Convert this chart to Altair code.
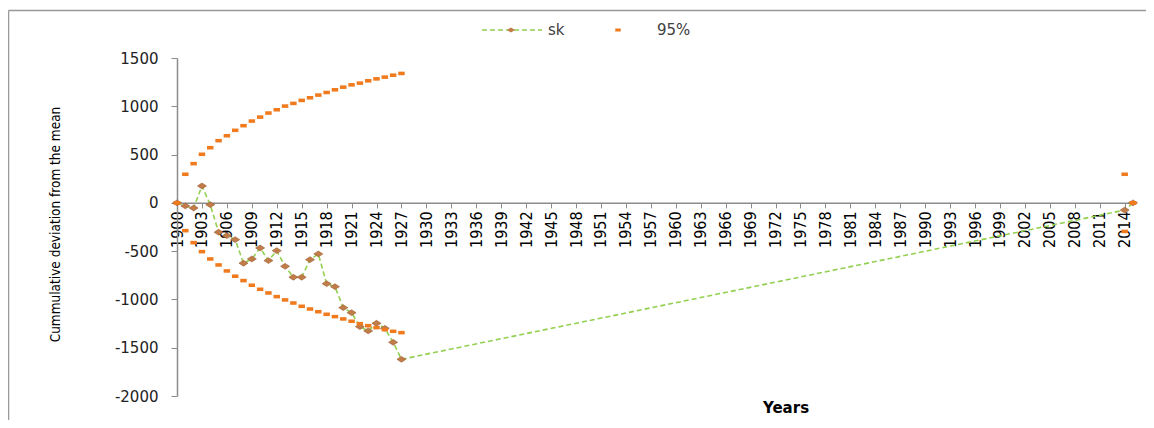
import altair as alt
import pandas as pd

# ---- data ----
years_a = list(range(1900, 1928))
years_b = [2014, 2015]
years = years_a + years_b

sk = [0, -32, -53, 175, -19, -304, -340, -381, -625, -581, -467, -598, -495, -657,
      -770, -770, -588, -529, -837, -868, -1085, -1137, -1282, -1326, -1247, -1299,
      -1444, -1620,
      -75, 0]

upper95 = [0, 296, 406, 503, 571, 644, 695, 751, 799, 847, 888, 930, 964, 1002,
           1030, 1061, 1088, 1116, 1143, 1171, 1198, 1222, 1240, 1264, 1284, 1302,
           1322, 1340,
           296, 0]

lower95 = [0, -288, -412, -505, -581, -643, -705, -760, -805, -853, -895, -933, -971,
           -1005, -1037, -1071, -1099, -1127, -1154, -1178, -1202, -1226, -1251, -1272,
           -1292, -1313, -1330, -1344,
           -296, 0]

x_ticks = list(range(1900, 2015, 3))
y_ticks = [-2000, -1500, -1000, -500, 0, 500, 1000, 1500]

legend_sk = ["sk"]
legend_95 = ["95%"]
x_title = ["Years"]
y_title = "Cummulative deviation from the mean"

# ---- layout constants ----
W, H = 956, 338
Y_MIN, Y_MAX = -2000, 1500
zero_px = H * (Y_MAX - 0) / (Y_MAX - Y_MIN)
x_axis_offset = -(H - zero_px)

GREEN = "#92D050"
BROWN = "#C27C4A"
ORANGE = "#F07A1E"
AXIS_GREY = "#8C8C8C"
NARROW = "Liberation Sans Narrow, DejaVu Sans Condensed, Arial Narrow, sans-serif"
WIDE = "DejaVu Sans, Verdana, sans-serif"

DIAMOND = "M-1,0L0,-0.65L1,0L0,0.65Z"
RECT = "M-1,-0.55L1,-0.55L1,0.55L-1,0.55Z"

sk_df = pd.DataFrame({"year": years, "sk": sk})
ci_df = pd.DataFrame({
    "year": years + years,
    "value": upper95 + lower95,
    "bound": ["upper"] * len(years) + ["lower"] * len(years),
})

x_axis = alt.Axis(
    values=x_ticks, format="d", labelAngle=-90, labelOverlap=False,
    labelFont=NARROW, labelFontSize=16, labelColor="#000000", labelPadding=3,
    tickSize=5, tickColor=AXIS_GREY, domainColor=AXIS_GREY, domainWidth=1.5,
    grid=False, title=None, offset=x_axis_offset,
)
y_axis = alt.Axis(
    values=y_ticks, labelExpr="datum.value + ''", labelFont=WIDE, labelFontSize=15,
    labelColor="#222222", labelPadding=13, tickSize=6, tickColor=AXIS_GREY,
    domainColor=AXIS_GREY, domainWidth=1.5, grid=False,
    title=y_title, titleFont=NARROW, titleFontSize=13.5, titleFontWeight="normal",
    titleColor="#000000", titleX=-122, titleY=166, titleAngle=-90,
    titleAlign="center", titleBaseline="middle",
)
x_scale = alt.Scale(domain=[1900, 2015], nice=False, zero=False)
y_scale = alt.Scale(domain=[Y_MIN, Y_MAX], nice=False, zero=False)

sk_line = alt.Chart(sk_df).mark_line(
    color=GREEN, strokeDash=[5, 3], strokeWidth=1.6
).encode(
    x=alt.X("year:Q", scale=x_scale, axis=x_axis),
    y=alt.Y("sk:Q", scale=y_scale, axis=y_axis),
)
sk_pts = alt.Chart(sk_df).mark_point(
    shape=DIAMOND, filled=True, color=BROWN, size=81, opacity=1,
    stroke="#9A5A2E", strokeWidth=0.6,
).encode(
    x=alt.X("year:Q", scale=x_scale, axis=x_axis),
    y=alt.Y("sk:Q", scale=y_scale, axis=y_axis),
)
ci_pts = alt.Chart(ci_df).mark_point(
    shape=RECT, filled=True, color=ORANGE, size=42, opacity=1,
).encode(
    x=alt.X("year:Q", scale=x_scale, axis=x_axis),
    y=alt.Y("value:Q", scale=y_scale, axis=y_axis),
    detail="bound:N",
)

one = pd.DataFrame({"k": [0]})

# legend
leg_line = alt.Chart(one).mark_rule(
    color=GREEN, strokeDash=[5, 3], strokeWidth=1.6
).encode(x=alt.value(305), x2=alt.value(365), y=alt.value(-28))
leg_diamond = alt.Chart(one).mark_point(
    shape=DIAMOND, filled=True, color=BROWN, size=64, opacity=1
).encode(x=alt.value(334), y=alt.value(-28))
leg_sk = alt.Chart(pd.DataFrame({"t": legend_sk})).mark_text(
    align="left", baseline="middle", font=WIDE, fontSize=15, color="#404040"
).encode(text="t:N", x=alt.value(371), y=alt.value(-28))
leg_rect = alt.Chart(one).mark_point(
    shape=RECT, filled=True, color=ORANGE, size=30, opacity=1
).encode(x=alt.value(441), y=alt.value(-28))
leg_95 = alt.Chart(pd.DataFrame({"t": legend_95})).mark_text(
    align="left", baseline="middle", font=WIDE, fontSize=15, color="#404040"
).encode(text="t:N", x=alt.value(480), y=alt.value(-28))

# x title
xt = alt.Chart(pd.DataFrame({"t": x_title})).mark_text(
    align="center", baseline="alphabetic", font=WIDE, fontSize=15,
    fontWeight="bold", color="#000000"
).encode(text="t:N", x=alt.value(609), y=alt.value(355))

# chart-area border (top and left edges visible in the reference)
border_top = alt.Chart(one).mark_rule(color="#999999", strokeWidth=1.5).encode(
    x=alt.value(-168.5), x2=alt.value(W + 13), y=alt.value(-47.5))
border_left = alt.Chart(one).mark_rule(color="#999999", strokeWidth=1.5).encode(
    x=alt.value(-168.5), y=alt.value(-47.5), y2=alt.value(H + 24))

chart = alt.layer(
    sk_line, sk_pts, ci_pts,
    leg_line, leg_diamond, leg_sk, leg_rect, leg_95, xt,
    border_top, border_left,
).properties(
    width=W, height=H,
    autosize=alt.AutoSizeParams(type="none"),
    padding={"left": 169, "top": 50, "right": 13, "bottom": 24},
).configure_view(stroke=None)

chart.save("out.html", embed_options={"renderer": "svg", "actions": False})
